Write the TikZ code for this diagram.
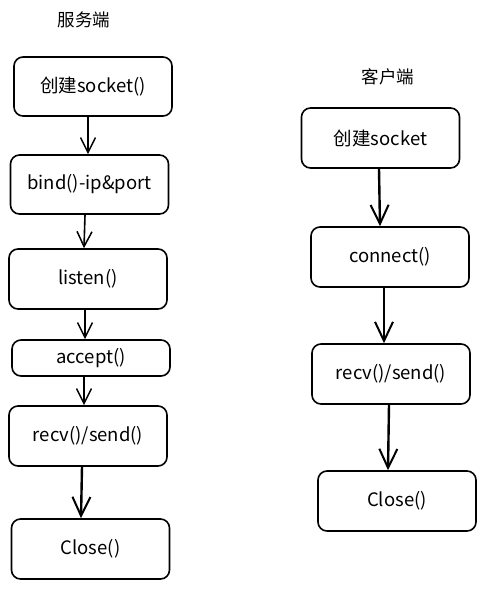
\documentclass[tikz,border=0pt]{standalone}
\usepackage{fontspec}
\setmainfont{Noto Sans CJK SC}
\usetikzlibrary{arrows.meta}
\tikzset{
	stepbox/.style={draw, line width=1.6pt, rounded corners=9pt, minimum width=158pt, minimum height=60pt, inner sep=0pt, font=\fontsize{18.5}{22}\selectfont},
	flat/.style={stepbox, minimum height=36pt},
	flow/.style={line width=1.6pt, -{Straight Barb[length=15pt, width=15pt, line width=1.5pt]}},
	boldflow/.style={line width=2.4pt, -{Straight Barb[length=19pt, width=18pt, line width=2pt]}},
	heading/.style={font=\fontsize{17.5}{21}\selectfont}
}

\begin{document}
\begin{tikzpicture}[x=1pt, y=-1pt]
			%%%%% START %%%%%
			\useasboundingbox (0, 0) rectangle (485, 589);
			
			% server side
			\node[heading] (stitle) at (84, 20) {服务端};
			\node[stepbox, minimum height=59pt] (screate) at (93, 86.5) {创建socket()};
			\node[stepbox, minimum height=59pt] (sbind) at (89.5, 184.5) {bind()-ip\&port};
			\node[stepbox] (slisten) at (88, 279) {listen()};
			\node[flat] (saccept) at (91, 358) {accept()};
			\node[stepbox] (srecv) at (88, 436) {recv()/send()};
			\node[stepbox] (sclose) at (90.5, 549) {Close()};
			
			\draw[flow] (screate.south -| 88,0) -- (sbind.north -| 88,0);
			\draw[flow] (sbind.south -| 85,0) -- (slisten.north -| 84,0);
			\draw[flow] (slisten.south -| 85,0) -- (saccept.north -| 85,0);
			\draw[flow] (saccept.south -| 84,0) -- (srecv.north -| 84,0);
			\draw[boldflow] (srecv.south -| 82,0) -- (sclose.north -| 81,0);
			
			% client side
			\node[heading] (ctitle) at (388, 77) {客户端};
			\node[stepbox] (ccreate) at (380.5, 138) {创建socket};
			\node[stepbox] (cconnect) at (390, 257) {connect()};
			\node[stepbox] (crecv) at (391, 374) {recv()/send()};
			\node[stepbox] (cclose) at (397, 501) {Close()};
			
			\draw[boldflow] (ccreate.south -| 379,0) -- (cconnect.north -| 380,0);
			\draw[boldflow] (cconnect.south -| 384,0) -- (crecv.north -| 384,0);
			\draw[boldflow] (crecv.south -| 389,0) -- (cclose.north -| 388,0);
			%%%%% END %%%%%
\end{tikzpicture}
\end{document}
